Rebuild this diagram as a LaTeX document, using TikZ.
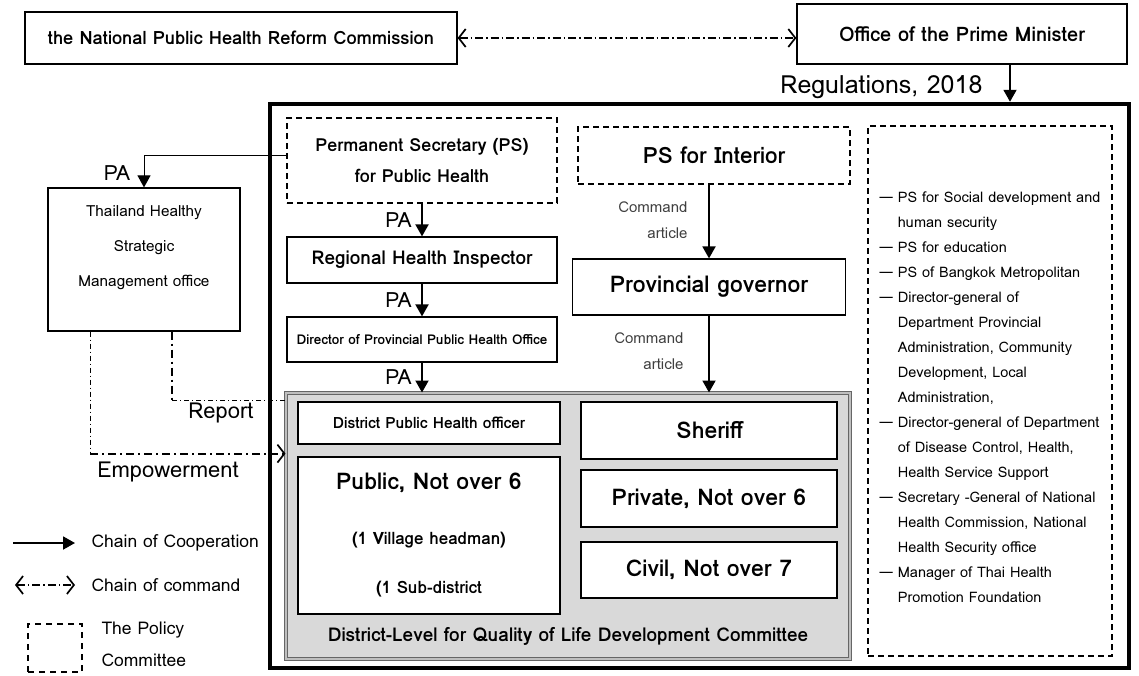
\documentclass[tikz,border=0pt]{standalone}
\usepackage{fontspec}
\setmainfont{Loma}
\usetikzlibrary{arrows.meta,positioning}
\tikzset{
  box/.style={
      rectangle,
      draw,
      line width=1.2pt,
      inner sep=0pt,
      align=center,
      font=\bfseries\fontsize{18}{31}\selectfont
  },
  policy/.style={box, dash pattern=on 6pt off 4pt},
  member/.style={box, line width=1.6pt, fill=white, font=\bfseries\fontsize{23}{26}\selectfont},
  coop/.style={-{Triangle[length=12pt,width=13pt]}, line width=1.9pt},
  command/.style={line width=1.8pt, dash pattern=on 8pt off 3pt on 1.5pt off 3pt},
  barbs/.style={{Straight Barb[length=7pt,width=18pt,line width=1.7pt]}-{Straight Barb[length=7pt,width=18pt,line width=1.7pt]}},
  thickdd/.style={line width=2.2pt, dash pattern=on 8pt off 4pt on 2pt off 4pt},
  thindd/.style={line width=0.8pt, dash pattern=on 5pt off 3pt on 1pt off 3pt},
  lbl/.style={font=\fontsize{21}{24}\selectfont},
  key/.style={font=\fontsize{17.5}{20}\selectfont, anchor=west},
  note/.style={font=\fontsize{15}{26}\selectfont, text=black!75, align=right, anchor=east}
}

\begin{document}
\begin{tikzpicture}[x=1pt,y=-1pt]
    \useasboundingbox (0,0) rectangle (1139,675);
    % top level
    \node[box, minimum width=432pt, minimum height=52pt, font=\bfseries\fontsize{18.3}{21}\selectfont] (nphrc) at (241,38) {the National Public Health Reform Commission};
    \node[box, minimum width=330pt, minimum height=60pt, font=\bfseries\fontsize{20}{23}\selectfont] (pmoffice) at (962,34) {Office of the Prime Minister};
    \draw[command, barbs] (nphrc.east) -- (nphrc.east -| pmoffice.west);

    % regulations frame
    \node[draw, line width=4.5pt, minimum width=859pt, minimum height=564pt, inner sep=0pt] (frame) at (699.5,386) {};
    \draw[coop] ([xshift=48pt]pmoffice.south) -- ([xshift=48pt]pmoffice.south |- frame.north);
    \node[font=\fontsize{25}{28}\selectfont, anchor=east] (regulations) at (986,87) {Regulations, 2018};

    % public health line
    \node[policy, minimum width=270pt, minimum height=85pt] (psph) at (422,160.5) {Permanent Secretary (PS)\\for Public Health};
    \node[box, minimum width=270pt, minimum height=46pt, font=\bfseries\fontsize{19}{22}\selectfont] (regional) at (422,260) {Regional Health Inspector};
    \node[box, minimum width=270pt, minimum height=45pt, font=\bfseries\fontsize{13.5}{16}\selectfont] (director) at (422,339.5) {Director of Provincial Public Health Office};
    \draw[coop] (psph.south) -- (regional.north) node[lbl, midway, left=6pt] (pa1) {PA};
    \draw[coop] (regional.south) -- (director.north) node[lbl, midway, left=6pt] (pa2) {PA};

    % interior line
    \node[policy, minimum width=272pt, minimum height=57pt, font=\bfseries\fontsize{22.5}{26}\selectfont] (psint) at (714,155.5) {PS for Interior};
    \node[box, minimum width=273pt, minimum height=56pt, font=\bfseries\fontsize{23}{26}\selectfont] (provgov) at (709,287) {Provincial governor};
    \draw[coop] (psint.south -| provgov.north) -- (provgov.north);
    \node[note] (cmd1) at (691,220) {Command\\article};

    % other members
    \node[policy, minimum width=244pt, minimum height=530pt, font=\fontsize{14.5}{25}\selectfont, align=left] (members) at (990,391) {%
      \begin{tabular}{@{}l@{\hspace{5pt}}l@{}}
      \rule{0pt}{31pt}\textemdash & PS for Social development and\\
       & human security\\
      \textemdash & PS for education\\
      \textemdash & PS of Bangkok Metropolitan\\
      \textemdash & Director-general of\\
       & Department Provincial\\
       & Administration, Community\\
       & Development, Local\\
       & Administration,\\
      \textemdash & Director-general of Department\\
       & of Disease Control, Health,\\
       & Health Service Support\\
      \textemdash & Secretary -General of National\\
       & Health Commission, National\\
       & Health Security office\\
      \textemdash & Manager of Thai Health\\
       & Promotion Foundation
      \end{tabular}};

    % district committee
    \node[draw=black!60, double=black!25, double distance=1.2pt, line width=1pt, fill=black!15, minimum width=564pt, minimum height=266pt, inner sep=0pt] (district) at (568,526) {};
    \node[font=\bfseries\fontsize{19}{22}\selectfont] (districttitle) at (568,636) {District-Level for Quality of Life Development Committee};
    \node[member, minimum width=262pt, minimum height=42pt, font=\bfseries\fontsize{15.5}{18}\selectfont] (dphofficer) at (429,423) {District Public Health officer};
    \node[member, minimum width=262pt, minimum height=157pt] (public) at (429,535.5) {Public, Not over 6\\[29pt]{\fontsize{17}{20}\selectfont (1 Village headman)}\\[23pt]{\fontsize{17}{20}\selectfont (1 Sub-district}};
    \node[member, minimum width=256pt, minimum height=57pt] (sheriff) at (709,430.5) {Sheriff};
    \node[member, minimum width=256pt, minimum height=57pt] (private) at (709,498.5) {Private, Not over 6};
    \node[member, minimum width=256pt, minimum height=56pt] (civil) at (709,570) {Civil, Not over 7};
    \draw[coop] (director.south) -- (director.south |- district.north) node[lbl, midway, left=6pt] (pa3) {PA};
    \draw[coop] (provgov.south) -- (provgov.south |- district.north);
    \node[note] (cmd2) at (687,351) {Command\\article};

    % strategic office
    \node[box, minimum width=192pt, minimum height=143pt, font=\fontsize{15.3}{35}\selectfont, text depth=26pt] (thai) at (144,259.5) {Thailand Healthy\\Strategic\\Management office};
    \draw[-{Triangle[length=12pt,width=13pt]}, line width=1pt] ([yshift=5pt]psph.west) -| (thai.north);
    \node[lbl] (pa0) at (117,173) {PA};
    \draw[thickdd] ([xshift=28pt]thai.south) -- ++(0,69) coordinate (rep);
    \draw[thindd] (rep) -- (rep -| district.west);
    \node[lbl, font=\fontsize{22}{25}\selectfont] (report) at (221,413) {Report};
    \draw[thindd] ([xshift=-54pt]thai.south) -- ++(0,122) coordinate (emp);
    \draw[thickdd, -{Straight Barb[length=7pt,width=18pt,line width=1.7pt]}] (emp) -- (emp -| district.west);
    \node[lbl, font=\fontsize{22}{25}\selectfont] (empower) at (168,472) {Empowerment};

    % legend
    \coordinate (k1a) at (13,543);
    \coordinate (k1b) at (75,543);
    \coordinate (k2a) at (15,585);
    \coordinate (k2b) at (75,585);
    \draw[coop] (k1a) -- (k1b);
    \draw[command, barbs] (k2a) -- (k2b);
    \node[key] (key1) at (88,543) {Chain of Cooperation};
    \node[key] (key2) at (88,585) {Chain of command};
    \node[draw, line width=1.5pt, dash pattern=on 6pt off 5pt, minimum width=54pt, minimum height=48pt] (policykey) at (55,648) {};
    \node[key] (key3) at (98,630) {The Policy};
    \node[key] (key4) at (98,660) {Committee};
\end{tikzpicture}
\end{document}
